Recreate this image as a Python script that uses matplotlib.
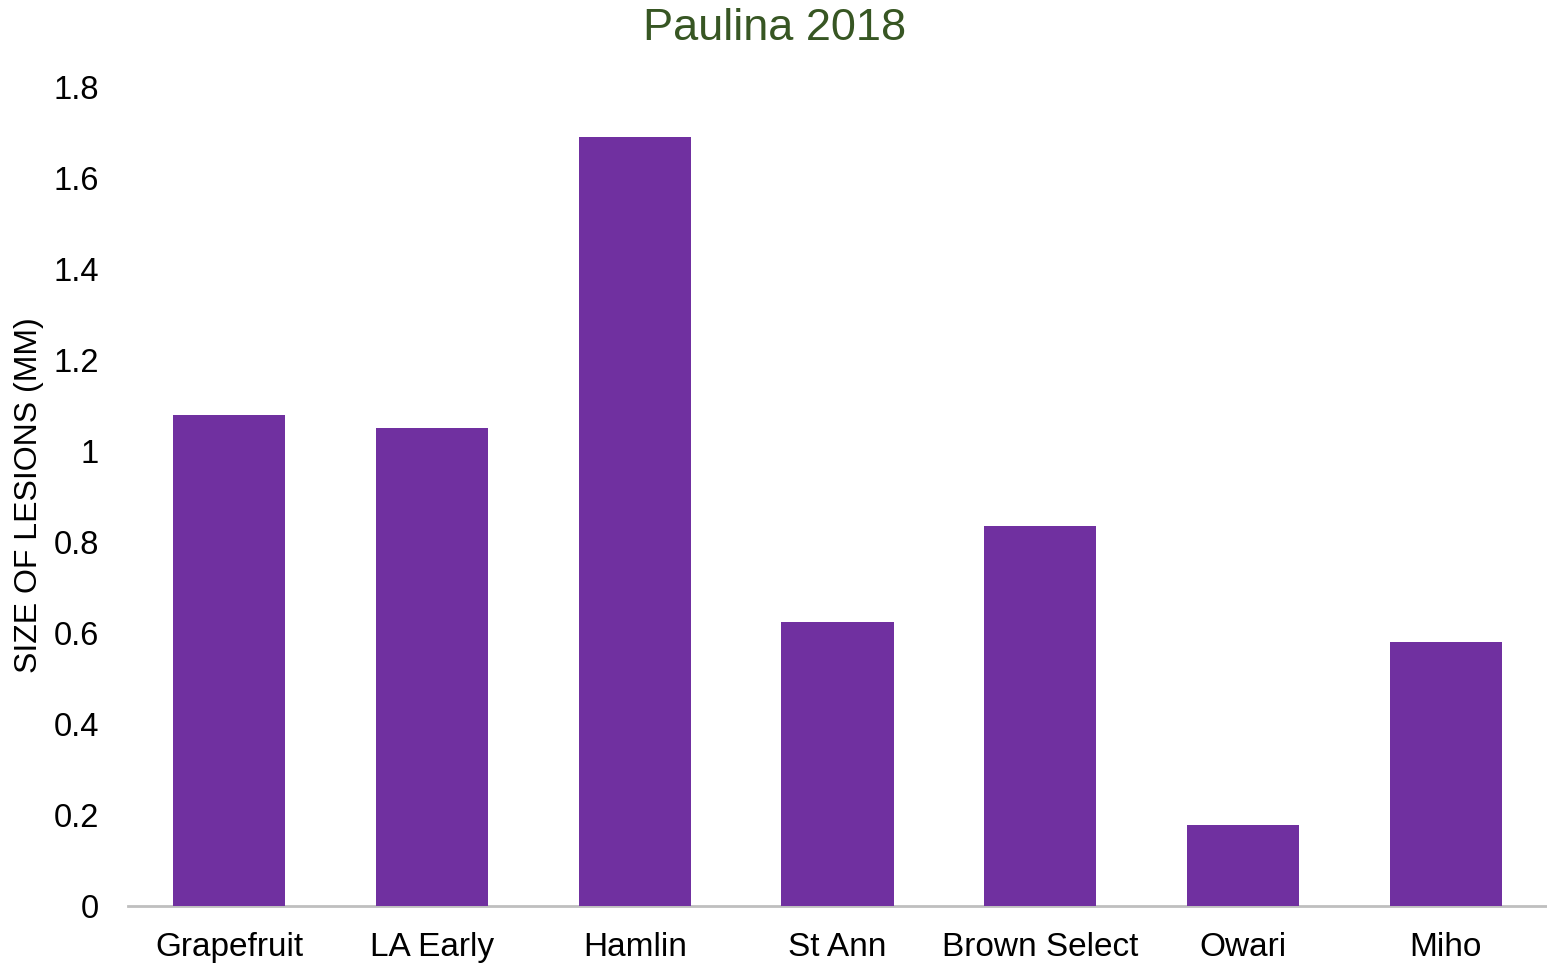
import matplotlib
matplotlib.use("Agg")
import matplotlib.pyplot as plt

categories = ["Grapefruit", "LA Early", "Hamlin", "St Ann", "Brown Select", "Owari", "Miho"]
values = [1.08, 1.05, 1.69, 0.625, 0.835, 0.177, 0.58]
yticks = [0, 0.2, 0.4, 0.6, 0.8, 1, 1.2, 1.4, 1.6, 1.8]
ytick_labels = ["0", "0.2", "0.4", "0.6", "0.8", "1", "1.2", "1.4", "1.6", "1.8"]

plt.rcParams['font.family'] = ['Liberation Sans', 'DejaVu Sans']

fig = plt.figure(figsize=(15.47, 9.66), dpi=100)
ax = fig.add_axes([128/1547, 1 - 906/966, 1 - 128/1547, (906 - 87)/966])

x = list(range(len(categories)))
ax.bar(x, values, width=0.553, color="#7030A0", zorder=3)
ax.set_xlim(-0.5, len(categories) - 0.5)
ax.set_ylim(0, 1.8)
ax.set_yticks(yticks)
ax.set_yticklabels(ytick_labels)
ax.set_xticks(x)
ax.set_xticklabels(categories)
ax.tick_params(axis='y', length=0, labelsize=23.5, pad=21)
ax.tick_params(axis='x', length=0, labelsize=24, pad=19)

for s in ["top", "right", "left"]:
    ax.spines[s].set_visible(False)
ax.spines["bottom"].set_color("#BFBFBF")
ax.spines["bottom"].set_linewidth(2)

fig.text(29/1547, 1 - 495/966, "SIZE OF LESIONS (MM)", rotation=90, fontsize=23,
         ha="center", va="center")
fig.text(775/1547, 1 - 28/966, "Paulina 2018", fontsize=32.5, color="#375623",
         ha="center", va="center")

fig.savefig("out.png", dpi=100)
